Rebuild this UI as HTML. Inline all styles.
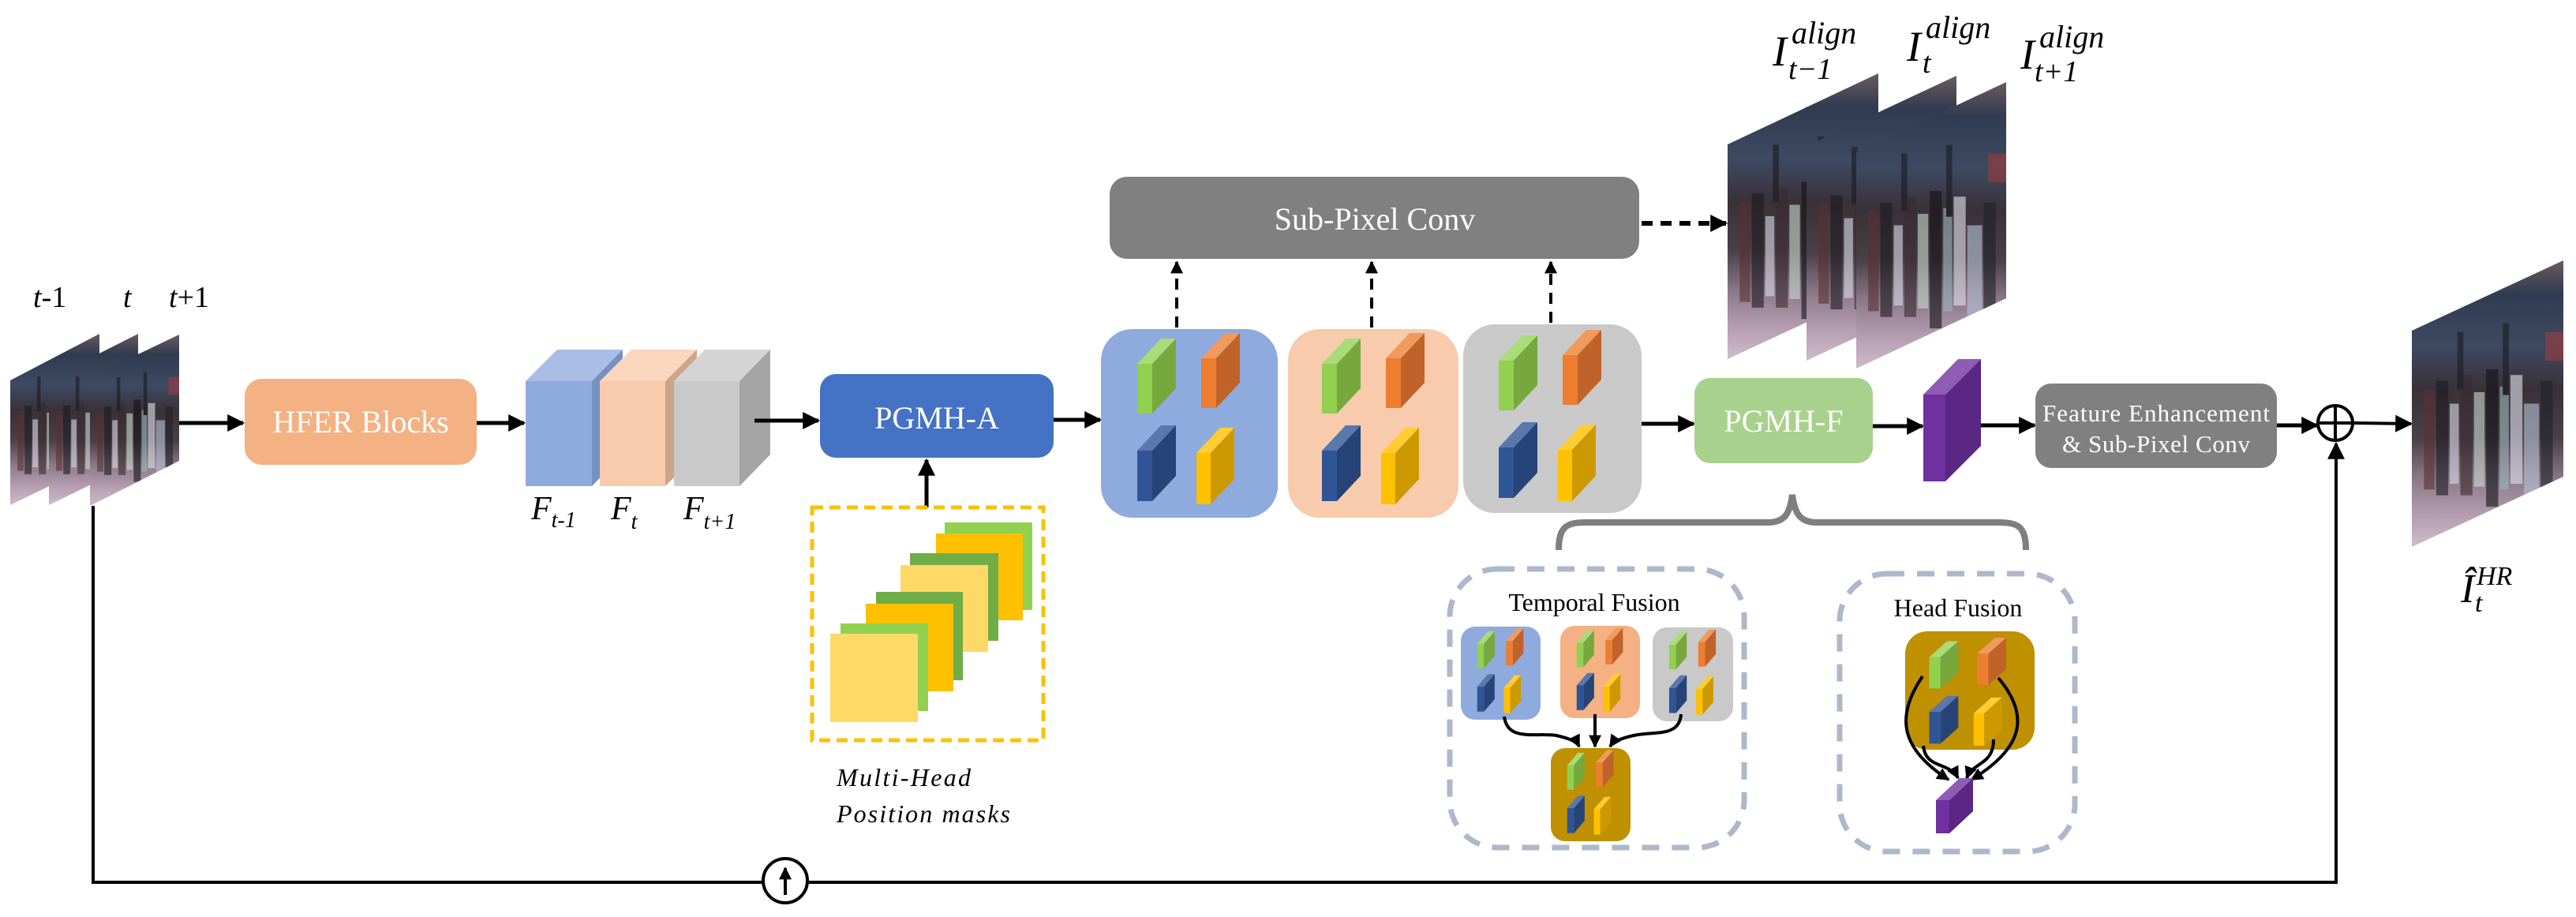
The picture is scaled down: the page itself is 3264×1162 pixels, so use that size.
<!DOCTYPE html>
<html><head><meta charset="utf-8"><style>
html,body{margin:0;padding:0;background:#fff;}
svg{display:block;}
text{font-family:"Liberation Serif",serif;}
</style></head><body>
<svg width="3264" height="1162" viewBox="0 0 3264 1162" xmlns="http://www.w3.org/2000/svg">
<defs>
<marker id="ah" viewBox="0 0 10 10" refX="9" refY="5" markerUnits="userSpaceOnUse" markerWidth="24" markerHeight="22" orient="auto"><path d="M0,0 L10,5 L0,10 z" fill="#000"/></marker>
<marker id="ahs" viewBox="0 0 10 10" refX="9" refY="5" markerUnits="userSpaceOnUse" markerWidth="18" markerHeight="16" orient="auto"><path d="M0,0 L10,5 L0,10 z" fill="#000"/></marker>
<linearGradient id="pg" x1="0" y1="0" x2="0" y2="1">
<stop offset="0" stop-color="#6a5a60"/><stop offset="0.12" stop-color="#2f3b50"/><stop offset="0.3" stop-color="#3d4a62"/><stop offset="0.45" stop-color="#3a3038"/><stop offset="0.62" stop-color="#4a4048"/><stop offset="0.76" stop-color="#8a7888"/><stop offset="0.9" stop-color="#b8a0b4"/><stop offset="1" stop-color="#cdbccb"/>
</linearGradient>
<pattern id="ps" patternUnits="objectBoundingBox" patternContentUnits="objectBoundingBox" width="1" height="1">
<rect x="0.08" y="0.45" width="0.07" height="0.35" fill="#5a3030"/>
<rect x="0.16" y="0.42" width="0.08" height="0.4" fill="#1c1a22"/>
<rect x="0.25" y="0.5" width="0.06" height="0.28" fill="#d8dae6"/>
<rect x="0.32" y="0.4" width="0.08" height="0.42" fill="#3a2a30"/>
<rect x="0.41" y="0.46" width="0.07" height="0.33" fill="#c8d8d0"/>
<rect x="0.49" y="0.38" width="0.08" height="0.48" fill="#121218"/>
<rect x="0.58" y="0.44" width="0.06" height="0.36" fill="#9ab8c0"/>
<rect x="0.65" y="0.4" width="0.08" height="0.38" fill="#e4e4ee"/>
<rect x="0.74" y="0.5" width="0.1" height="0.32" fill="#b8c4d8"/>
<rect x="0.85" y="0.42" width="0.08" height="0.4" fill="#202028"/>
<rect x="0.3" y="0.25" width="0.04" height="0.2" fill="#1a1a20"/>
<rect x="0.6" y="0.22" width="0.04" height="0.25" fill="#1a1a20"/>
<rect x="0.88" y="0.25" width="0.12" height="0.1" fill="#a03a3a"/>
</pattern>
<g id="quad">
<rect x="46" y="44" width="19" height="63" fill="#92d050"/><polygon points="46,44 65,44 95,12 76,12" fill="#a9dc78"/><polygon points="65,44 95,12 95,75 65,107" fill="#76a83e"/>
<rect x="127" y="37" width="19" height="63" fill="#ed7d31"/><polygon points="127,37 146,37 176,5 157,5" fill="#f19a5e"/><polygon points="146,37 176,5 176,68 146,100" fill="#c0632a"/>
<rect x="46" y="154" width="19" height="64" fill="#2f5597"/><polygon points="46,154 65,154 95,122 76,122" fill="#5a78ad"/><polygon points="65,154 95,122 95,186 65,218" fill="#264478"/>
<rect x="121" y="157" width="18" height="65" fill="#ffc000"/><polygon points="121,157 139,157 169,125 151,125" fill="#ffcd33"/><polygon points="139,157 169,125 169,190 139,222" fill="#cc9a00"/>
</g>
</defs>

<!-- input frames -->
<text x="42" y="389" font-family="Liberation Sans, sans-serif" font-size="38"><tspan font-style="italic">t</tspan>-1</text>
<text x="156" y="389" font-family="Liberation Sans, sans-serif" font-size="38" font-style="italic">t</text>
<text x="214" y="389" font-family="Liberation Sans, sans-serif" font-size="38"><tspan font-style="italic">t</tspan>+1</text>
<g>
<polygon points="13,482 126,423 126,585 13,640" fill="url(#pg)"/><polygon points="13,482 126,423 126,585 13,640" fill="url(#ps)" opacity="0.6"/>
<polygon points="62,480 175,423 175,585 62,640" fill="url(#pg)"/><polygon points="62,480 175,423 175,585 62,640" fill="url(#ps)" opacity="0.6"/>
<polygon points="114,478 227,424 227,584 114,641" fill="url(#pg)"/><polygon points="114,478 227,424 227,584 114,641" fill="url(#ps)" opacity="0.6"/>
</g>
<line x1="227" y1="536" x2="308" y2="536" stroke="#000" stroke-width="5" marker-end="url(#ah)"/>

<!-- HFER -->
<rect x="310" y="480" width="294" height="109" rx="22" fill="#f4b183"/>
<text x="457" y="548" font-size="40" fill="#fff" text-anchor="middle">HFER Blocks</text>
<line x1="604" y1="536" x2="664" y2="536" stroke="#000" stroke-width="5" marker-end="url(#ah)"/>

<!-- feature cubes -->
<rect x="666" y="483" width="84" height="133" fill="#8faadc"/><polygon points="666,483 750,483 789,443 706,443" fill="#a9bde6"/><polygon points="750,483 789,443 789,576 750,616" fill="#7790bf"/>
<rect x="760" y="483" width="83" height="133" fill="#f8cbad"/><polygon points="760,483 843,483 883,443 800,443" fill="#f9d6bd"/><polygon points="843,483 883,443 883,576 843,616" fill="#cba58a"/>
<rect x="854" y="483" width="83" height="133" fill="#c9c9c9"/><polygon points="854,483 937,483 976,443 893,443" fill="#d4d4d4"/><polygon points="937,483 976,443 976,576 937,616" fill="#a5a5a5"/>
<text x="673" y="658" font-size="42" font-style="italic">F<tspan font-size="28" dy="10">t-1</tspan></text>
<text x="774" y="658" font-size="42" font-style="italic">F<tspan font-size="28" dy="12">t</tspan></text>
<text x="866" y="658" font-size="42" font-style="italic">F<tspan font-size="28" dy="12">t+1</tspan></text>
<line x1="956" y1="533" x2="1037" y2="533" stroke="#000" stroke-width="5" marker-end="url(#ah)"/>

<!-- PGMH-A -->
<rect x="1039" y="474" width="296" height="106" rx="20" fill="#4472c4"/>
<text x="1187" y="543" font-size="40" fill="#fff" text-anchor="middle">PGMH-A</text>
<line x1="1335" y1="532" x2="1394" y2="532" stroke="#000" stroke-width="5" marker-end="url(#ah)"/>
<line x1="1174" y1="643" x2="1174" y2="583" stroke="#000" stroke-width="5" marker-end="url(#ah)"/>

<!-- masks -->
<rect x="1029" y="643" width="293" height="295" fill="none" stroke="#ffc000" stroke-width="5" stroke-dasharray="14 8"/>
<rect x="1197" y="662" width="111" height="111" fill="#92d050"/>
<rect x="1186" y="676" width="110" height="110" fill="#ffc000"/>
<rect x="1153" y="701" width="112" height="111" fill="#70ad47"/>
<rect x="1141" y="716" width="111" height="110" fill="#ffd966"/>
<rect x="1110" y="750" width="110" height="112" fill="#70ad47"/>
<rect x="1097" y="765" width="111" height="111" fill="#ffc000"/>
<rect x="1065" y="790" width="111" height="111" fill="#92d050"/>
<rect x="1052" y="803" width="111" height="112" fill="#ffd966"/>
<text x="1060" y="996" font-size="32" font-style="italic" textLength="170">Multi-Head</text>
<text x="1060" y="1042" font-size="32" font-style="italic" textLength="220">Position masks</text>

<!-- containers -->
<rect x="1395" y="417" width="224" height="239" rx="40" fill="#8faadc"/>
<use href="#quad" transform="translate(1395,417)"/>
<rect x="1632" y="417" width="216" height="239" rx="40" fill="#f8cbad"/>
<use href="#quad" transform="translate(1629,417)"/>
<rect x="1854" y="411" width="226" height="239" rx="40" fill="#c9c9c9"/>
<use href="#quad" transform="translate(1853,413)"/>

<!-- sub-pixel -->
<rect x="1406" y="224" width="671" height="104" rx="22" fill="#808080"/>
<text x="1742" y="291" font-size="40" fill="#fff" text-anchor="middle">Sub-Pixel Conv</text>
<g stroke="#000" stroke-width="4" stroke-dasharray="14 10">
<line x1="1491" y1="415" x2="1491" y2="332" marker-end="url(#ahs)"/>
<line x1="1738" y1="415" x2="1738" y2="332" marker-end="url(#ahs)"/>
<line x1="1965" y1="409" x2="1965" y2="332" marker-end="url(#ahs)"/>
<line x1="2080" y1="283" x2="2187" y2="283" stroke-width="6" marker-end="url(#ah)"/>
</g>

<!-- aligned frames -->
<polygon points="2189,183 2380,93 2380,366 2189,455" fill="url(#pg)"/><polygon points="2189,183 2380,93 2380,366 2189,455" fill="url(#ps)" opacity="0.6"/>
<polygon points="2289,185 2479,96 2479,368 2289,457" fill="url(#pg)"/><polygon points="2289,185 2479,96 2479,368 2289,457" fill="url(#ps)" opacity="0.6"/>
<polygon points="2352,193 2542,104 2542,378 2352,467" fill="url(#pg)"/><polygon points="2352,193 2542,104 2542,378 2352,467" fill="url(#ps)" opacity="0.6"/>
<text x="2246" y="83" font-size="54" font-style="italic">I</text>
<text x="2270" y="55" font-size="40" font-style="italic">align</text>
<text x="2266" y="100" font-size="38" font-style="italic">t−1</text>
<text x="2416" y="77" font-size="54" font-style="italic">I</text>
<text x="2440" y="48" font-size="40" font-style="italic">align</text>
<text x="2436" y="92" font-size="38" font-style="italic">t</text>
<text x="2560" y="87" font-size="54" font-style="italic">I</text>
<text x="2584" y="60" font-size="40" font-style="italic">align</text>
<text x="2578" y="103" font-size="38" font-style="italic">t+1</text>

<!-- PGMH-F -->
<line x1="2080" y1="537" x2="2146" y2="537" stroke="#000" stroke-width="5" marker-end="url(#ah)"/>
<rect x="2147" y="479" width="226" height="108" rx="20" fill="#a9d18e"/>
<text x="2260" y="547" font-size="40" fill="#fff" text-anchor="middle">PGMH-F</text>
<line x1="2373" y1="540" x2="2436" y2="540" stroke="#000" stroke-width="5" marker-end="url(#ah)"/>
<rect x="2437" y="500" width="28" height="110" fill="#7030a0"/><polygon points="2437,500 2465,500 2510,455 2481,455" fill="#8e5bb5"/><polygon points="2465,500 2510,455 2510,565 2465,610" fill="#5a2782"/>
<line x1="2510" y1="539" x2="2578" y2="539" stroke="#000" stroke-width="5" marker-end="url(#ah)"/>
<rect x="2579" y="486" width="306" height="107" rx="20" fill="#808080"/>
<text x="2732" y="534" font-size="31" fill="#fff" text-anchor="middle" textLength="288">Feature Enhancement</text>
<text x="2732" y="573" font-size="31" fill="#fff" text-anchor="middle" textLength="238">&amp; Sub-Pixel Conv</text>
<line x1="2885" y1="539" x2="2936" y2="539" stroke="#000" stroke-width="5" marker-end="url(#ah)"/>
<circle cx="2959" cy="536" r="22" fill="#fff" stroke="#000" stroke-width="4"/>
<line x1="2937" y1="536" x2="2981" y2="536" stroke="#000" stroke-width="4"/>
<line x1="2959" y1="514" x2="2959" y2="558" stroke="#000" stroke-width="4"/>
<line x1="2983" y1="536" x2="3055" y2="537" stroke="#000" stroke-width="4" marker-end="url(#ah)"/>
<polygon points="3056,419 3248,330 3248,604 3056,693" fill="url(#pg)"/><polygon points="3056,419 3248,330 3248,604 3056,693" fill="url(#ps)" opacity="0.6"/>
<text x="3118" y="763" font-size="52" font-style="italic">Î</text>
<text x="3138" y="741" font-size="34" font-style="italic">HR</text>
<text x="3136" y="775" font-size="34" font-style="italic">t</text>

<!-- skip connection -->
<polyline points="118,641 118,1118 2960,1118 2960,562" fill="none" stroke="#000" stroke-width="4" marker-end="url(#ah)"/>
<circle cx="995" cy="1116" r="28" fill="#fff" stroke="#000" stroke-width="4"/>
<line x1="995" y1="1134" x2="995" y2="1100" stroke="#000" stroke-width="4" marker-end="url(#ahs)"/>

<!-- brace -->
<path d="M1975,697 C1975,667 1985,662 2010,662 L2240,662 C2262,662 2268,650 2271,627 C2274,650 2280,662 2302,662 L2532,662 C2557,662 2567,667 2567,697" fill="none" stroke="#7f7f7f" stroke-width="8"/>

<!-- temporal fusion -->
<rect x="1837" y="721" width="373" height="353" rx="60" fill="none" stroke="#adb9ca" stroke-width="7" stroke-dasharray="22 16"/>
<text x="2020" y="774" font-size="32" text-anchor="middle">Temporal Fusion</text>
<rect x="1851" y="794" width="101" height="118" rx="18" fill="#8faadc"/>
<use href="#quad" transform="translate(1851,794) scale(0.451,0.494)"/>
<rect x="1977" y="793" width="101" height="117" rx="18" fill="#f4b183"/>
<use href="#quad" transform="translate(1977,793) scale(0.451,0.49)"/>
<rect x="2094" y="795" width="102" height="119" rx="18" fill="#c9c9c9"/>
<use href="#quad" transform="translate(2094,795) scale(0.455,0.498)"/>
<rect x="1965" y="948" width="101" height="118" rx="18" fill="#bf9000"/>
<use href="#quad" transform="translate(1965,948) scale(0.451,0.494)"/>
<g fill="none" stroke="#000" stroke-width="4">
<path d="M1906,908 C1910,940 1945,928 1972,932 C1990,936 1998,940 2001,946" marker-end="url(#ahs)"/>
<line x1="2021" y1="905" x2="2021" y2="946" marker-end="url(#ahs)"/>
<path d="M2130,905 C2128,935 2095,926 2070,932 C2052,936 2044,940 2040,946" marker-end="url(#ahs)"/>
</g>

<!-- head fusion -->
<rect x="2331" y="727" width="298" height="352" rx="60" fill="none" stroke="#adb9ca" stroke-width="7" stroke-dasharray="22 16"/>
<text x="2481" y="781" font-size="32" text-anchor="middle">Head Fusion</text>
<rect x="2414" y="800" width="164" height="150" rx="28" fill="#bf9000"/>
<use href="#quad" transform="translate(2410,805) scale(0.75,0.63)"/>
<g fill="none" stroke="#000" stroke-width="4">
<path d="M2436,857 C2400,910 2410,950 2469,988" marker-end="url(#ahs)"/>
<path d="M2532,859 C2575,910 2560,950 2498,988" marker-end="url(#ahs)"/>
<path d="M2437,945 C2440,975 2470,965 2481,986" marker-end="url(#ahs)"/>
<path d="M2526,937 C2526,970 2500,965 2492,986" marker-end="url(#ahs)"/>
</g>
<rect x="2453" y="1014" width="17" height="42" fill="#7030a0"/><polygon points="2453,1014 2470,1014 2500,986 2483,986" fill="#8e5bb5"/><polygon points="2470,1014 2500,986 2500,1028 2470,1056" fill="#5a2782"/>
</svg>
</body></html>
